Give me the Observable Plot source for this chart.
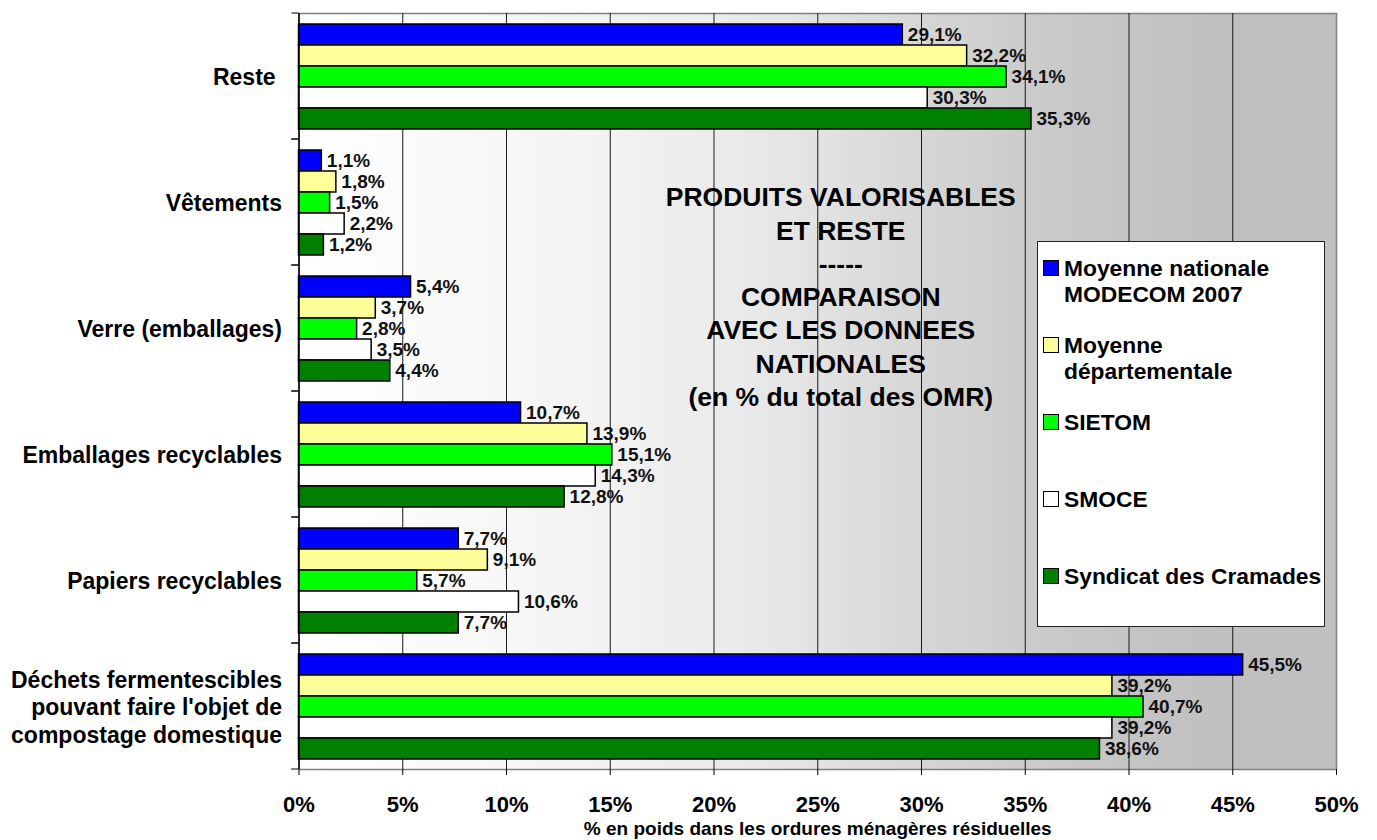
<!DOCTYPE html>
<html>
<head>
<meta charset="utf-8">
<script src="https://cdn.jsdelivr.net/npm/d3@7"></script>
<script src="https://cdn.jsdelivr.net/npm/@observablehq/plot@0.6"></script>
<style>
  html, body { margin: 0; padding: 0; background: #fff; }
  #wrap { position: relative; width: 1377px; height: 840px; font-family: Arial, "Liberation Sans", sans-serif; }
  #legend { position: absolute; left: 1037px; top: 241px; width: 288px; height: 386px; box-sizing: border-box;
            background: #fff; border: 1.5px solid #222; padding-top: 13px; padding-left: 5px; }
  .item { display: flex; align-items: flex-start; height: 77px; font-weight: bold; font-size: 22.8px; line-height: 26px; color: #000; white-space: pre; }
  .sw { width: 14px; height: 14px; border: 1px solid #000; margin-top: 5px; margin-right: 5px; flex: none; }
</style>
</head>
<body>
<div id="wrap"></div>
<script>
const categories = [
  "Reste",
  "Vêtements",
  "Verre (emballages)",
  "Emballages recyclables",
  "Papiers recyclables",
  "Déchets fermentescibles\npouvant faire l'objet de\ncompostage domestique"
];
const series = ["Moyenne nationale MODECOM 2007", "Moyenne départementale", "SIETOM", "SMOCE", "Syndicat des Cramades"];
const legendLabels = ["Moyenne nationale\nMODECOM 2007", "Moyenne\ndépartementale", "SIETOM", "SMOCE", "Syndicat des Cramades"];
const colors = ["#0000ff", "#ffff99", "#00ff00", "#ffffff", "#008000"];

const modecom     = [29.1, 1.1, 5.4, 10.7, 7.7, 45.5];
const departement = [32.2, 1.8, 3.7, 13.9, 9.1, 39.2];
const sietom      = [34.1, 1.5, 2.8, 15.1, 5.7, 40.7];
const smoce       = [30.3, 2.2, 3.5, 14.3, 10.6, 39.2];
const cramades    = [35.3, 1.2, 4.4, 12.8, 7.7, 38.6];

const xTicks = [0, 5, 10, 15, 20, 25, 30, 35, 40, 45, 50];
const titleText = "PRODUITS VALORISABLES\nET RESTE\n-----\nCOMPARAISON\nAVEC LES DONNEES\nNATIONALES\n(en % du total des OMR)";
const xLabel = "% en poids dans les ordures ménagères résiduelles";

const valuesBySeries = [modecom, departement, sietom, smoce, cramades];
const data = [];
categories.forEach((c, i) => series.forEach((s, j) => data.push({category: c, series: s, value: valuesBySeries[j][i]})));

const W = 1377, H = 840, mL = 298.5, mR = 41, mT = 12, mB = 70;
const pxPerUnit = (W - mL - mR) / 50;
const facetH = (H - mT - mB) / categories.length;
const tickLen = 7;
const fmt = v => v.toFixed(1).replace(".", ",") + "%";
const font = 'Arial, "Liberation Sans", sans-serif';

const svg = Plot.plot({
  width: W, height: H,
  marginLeft: mL, marginRight: mR, marginTop: mT, marginBottom: mB,
  style: {fontFamily: font, fontWeight: "bold", color: "#000", background: "transparent", overflow: "visible"},
  x: {domain: [0, 50]},
  y: {domain: series, axis: null, paddingInner: 0, paddingOuter: 0.45},
  fy: {domain: categories, padding: 0},
  color: {domain: series, range: colors},
  marks: [
    Plot.frame({facet: "super", fill: "url(#bgGrad)", stroke: "#808080", strokeWidth: 1.5}),
    Plot.ruleX(xTicks.filter(t => t > 0 && t < 50), {stroke: "#1a1a1a", strokeWidth: 1}),
    Plot.barX(data, {x: "value", y: "series", fy: "category", fill: "series", stroke: "#000", strokeWidth: 1.5}),
    Plot.text(data, {x: "value", y: "series", fy: "category", text: d => fmt(d.value), textAnchor: "start", dx: 5, fontSize: 19, fill: "#111"}),
    Plot.ruleX([0], {stroke: "#000", strokeWidth: 1.5}),
    Plot.rect(categories, {fy: d => d, x1: -tickLen / pxPerUnit, x2: 0, fill: "none", stroke: "#000", strokeWidth: 1.2,
      strokeDasharray: `${tickLen} ${facetH}`}),
    Plot.axisX({anchor: "bottom", ticks: xTicks, tickFormat: d => d + "%", tickSize: 6, tickPadding: 21, fontSize: 22, label: null, color: "#000"}),
    Plot.axisFy({anchor: "left", tickSize: 0, tickPadding: 17, fontSize: 23, label: null, lineHeight: 1.2,
      tickFormat: d => d === "Reste" ? "Reste\u00a0" : d}),
    Plot.text([titleText], {fy: () => categories[2], frameAnchor: "middle", dx: 23, dy: -33, fontSize: 26.5, lineHeight: 1.257, fill: "#000"}),
    Plot.text([xLabel], {fy: () => categories[5], frameAnchor: "bottom", lineAnchor: "middle", dy: 59, fontSize: 19, fill: "#000"})
  ]
});

const defs = d3.select(svg).insert("defs", ":first-child");
const grad = defs.append("linearGradient").attr("id", "bgGrad").attr("x1", "0%").attr("x2", "100%").attr("y1", "0%").attr("y2", "0%");
[[0, "#ffffff"], [0.2, "#f7f7f7"], [0.4, "#ececec"], [0.5, "#e2e2e2"], [0.6, "#d6d6d6"], [0.7, "#cccccc"], [0.8, "#c4c4c4"], [0.9, "#c0c0c0"], [1, "#c0c0c0"]]
  .forEach(([o, c]) => grad.append("stop").attr("offset", o).attr("stop-color", c));

const wrap = document.getElementById("wrap");
wrap.appendChild(svg);

const legend = document.createElement("div");
legend.id = "legend";
legendLabels.forEach((lab, i) => {
  const item = document.createElement("div");
  item.className = "item";
  const sw = document.createElement("div");
  sw.className = "sw";
  sw.style.background = colors[i];
  const t = document.createElement("div");
  t.textContent = lab;
  item.appendChild(sw);
  item.appendChild(t);
  legend.appendChild(item);
});
wrap.appendChild(legend);
</script>
</body>
</html>
